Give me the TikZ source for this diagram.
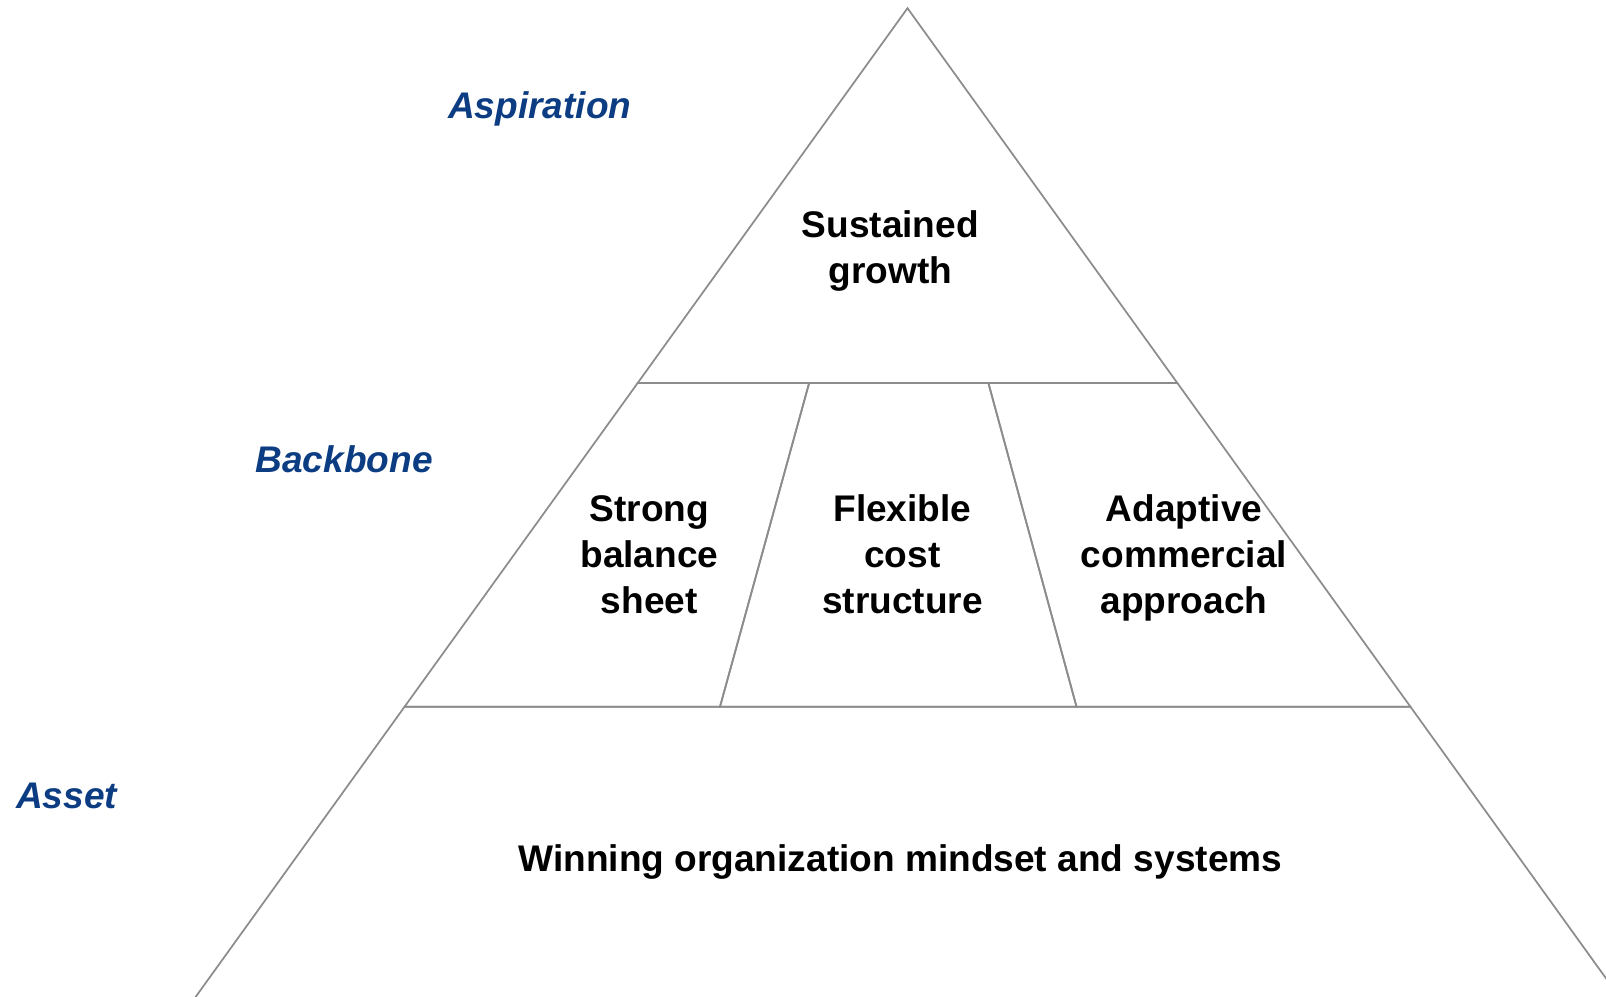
\documentclass[tikz,border=0pt]{standalone}
\usepackage{fontspec}
\setmainfont{Liberation Sans}
\definecolor{layerblue}{RGB}{12,60,130}
\definecolor{edgegray}{RGB}{140,140,140}

\begin{document}
\begin{tikzpicture}[
          x=0.75pt, y=-0.75pt,
          block/.style={
            draw=edgegray,
            line width=1.3pt,
            line join=miter,
          },
          pillar/.style={
            align=center,
            font=\fontsize{27.8}{34.5}\selectfont\bfseries,
          },
          layer/.style={
            text=layerblue,
            font=\fontsize{27.8}{34.5}\selectfont\bfseries\itshape,
          },
        ]
          \useasboundingbox (0,0) rectangle (1606,996);
          % corners of the three levels
          \coordinate (top) at (907.5,8.2);
          \coordinate (tl) at (637.6,383.1);
          \coordinate (tr) at (1177.4,383.1);
          \coordinate (ml) at (404.6,706.7);
          \coordinate (mr) at (1410.4,706.7);
          \coordinate (bl) at (186.2,1010);
          \coordinate (br) at (1628.8,1010);
          \coordinate (d1t) at (809.1,383.1);
          \coordinate (d1b) at (720.0,706.7);
          \coordinate (d2t) at (988.4,383.1);
          \coordinate (d2b) at (1076.5,706.7);

          \begin{scope}
            \clip (0,0) rectangle (1606,996);
            \draw[block] (top) -- (tr) -- (tl) -- cycle;
            \draw[block] (tl) -- (d1t) -- (d1b) -- (ml) -- cycle;
            \draw[block] (d1t) -- (d2t) -- (d2b) -- (d1b) -- cycle;
            \draw[block] (d2t) -- (tr) -- (mr) -- (d2b) -- cycle;
            \draw[block] (ml) -- (mr) -- (br) -- (bl) -- cycle;
          \end{scope}

          \node[pillar](growth) at (890.3,250.8) {Sustained\\growth};
          \node[pillar](balance) at (649.4,555.1) {Strong\\balance\\sheet};
          \node[pillar](cost) at (902.4,554.1) {Flexible\\cost\\structure};
          \node[pillar](commercial) at (1184.0,558.1) {Adaptive\\commercial\\approach};
          \node[pillar](mindset) at (900.3,862.3) {Winning organization mindset and systems};

          \node[layer](aspiration) at (539.8,108.5) {Aspiration};
          \node[layer](backbone) at (344.1,458.9) {Backbone};
          \node[layer](asset) at (66.6,795.8) {Asset};
        \end{tikzpicture}
\end{document}
